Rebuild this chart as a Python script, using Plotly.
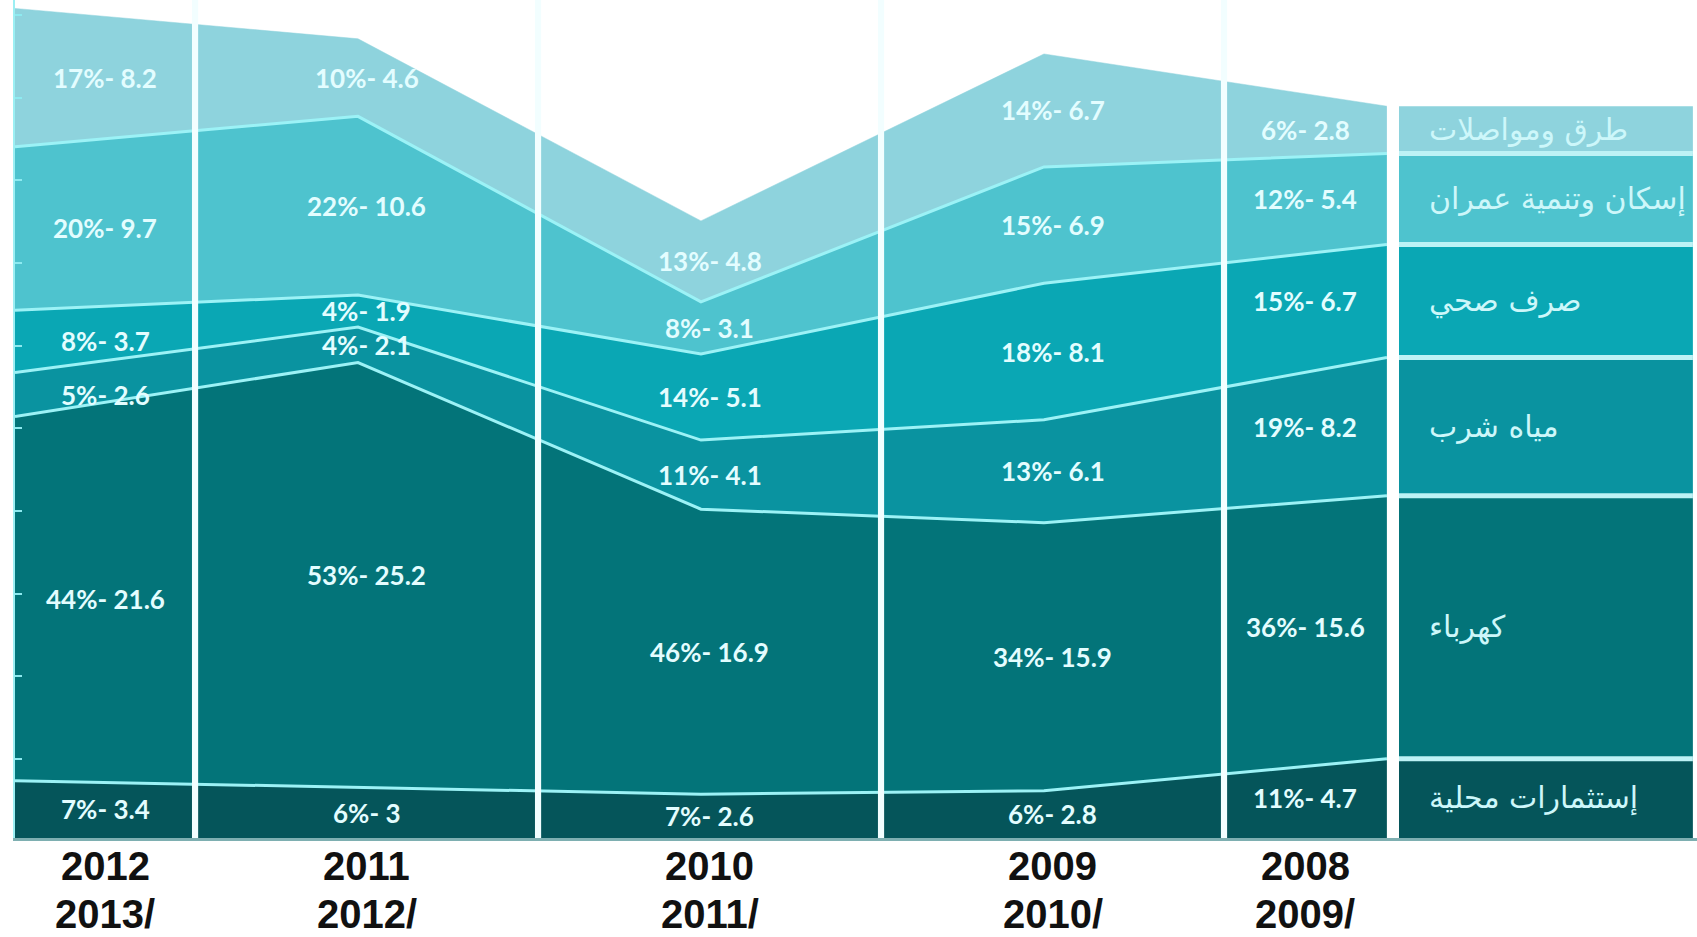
import plotly.graph_objects as go

# ---------------- data (left to right as in the reference) ----------------
year_line1 = ["2012", "2011", "2010", "2009", "2008"]
year_line2 = ["2013/", "2012/", "2011/", "2010/", "2009/"]

# sectors, bottom to top of the stack
sector_names = ["إستثمارات محلية", "كهرباء", "مياه شرب", "صرف صحي", "إسكان وتنمية عمران", "طرق ومواصلات"]
local_vals       = [3.4, 3.0, 2.6, 2.8, 4.7]
electricity_vals = [21.6, 25.2, 16.9, 15.9, 15.6]
water_vals       = [2.6, 2.1, 4.1, 6.1, 8.2]
sanitation_vals  = [3.7, 1.9, 5.1, 8.1, 6.7]
housing_vals     = [9.7, 10.6, 3.1, 6.9, 5.4]
roads_vals       = [8.2, 4.6, 4.8, 6.7, 2.8]

local_pct       = [7, 6, 7, 6, 11]
electricity_pct = [44, 53, 46, 34, 36]
water_pct       = [5, 4, 11, 13, 19]
sanitation_pct  = [8, 4, 14, 18, 15]
housing_pct     = [20, 22, 8, 15, 12]
roads_pct       = [17, 10, 13, 14, 6]

# ---------------- styles ----------------
colors = ["#05555A", "#037479", "#0A93A0", "#0AA7B4", "#4EC3CE", "#8ED3DD"]
band_line = "#9CF2F6"
label_color = "#E3FDFF"
legend_text_color = "#CDF7FA"

values = [local_vals, electricity_vals, water_vals, sanitation_vals, housing_vals, roads_vals]
pcts = [local_pct, electricity_pct, water_pct, sanitation_pct, housing_pct, roads_pct]

n = len(year_line1)
xs = list(range(n))
Y_MAX = 49.7
X_MAX = 4.904

# column boundaries (between categories) and column centres for the labels
separators = [i + 0.525 for i in range(n - 1)]
bounds = [0] + separators + [n - 1]
col_centers = [(bounds[i] + bounds[i + 1]) / 2 for i in range(n)]

LEG_X0, LEG_X1 = 4.035, 4.892
LEG_TEXT_X = 4.118

fig = go.Figure()

for k, (name, vals) in enumerate(zip(sector_names, values)):
    top = k == len(values) - 1
    fig.add_trace(go.Scatter(
        x=xs, y=vals, name=name, stackgroup="s", mode="lines",
        line=dict(color=colors[k] if top else band_line, width=0.5 if top else 3),
        fillcolor=colors[k], hoverinfo="skip", showlegend=False,
    ))

# cumulative sums for label positions
cum = [[0.0] * n]
for vals in values:
    cum.append([cum[-1][i] + vals[i] for i in range(n)])

annotations = []
shapes = []

label_font = dict(family="Lato, 'Liberation Sans', sans-serif", size=26, color=label_color, weight="bold")
year_font = dict(family="'Liberation Sans', Arial, sans-serif", size=40, color="#111111", weight="bold")

# value labels in every column
for k, vals in enumerate(values):
    for i in range(n):
        mid = (cum[k][i] + cum[k + 1][i]) / 2
        annotations.append(dict(
            x=col_centers[i], y=mid, xref="x", yref="y",
            text=f"{pcts[k][i]}%- {vals[i]:g}", showarrow=False, font=label_font,
        ))

# year labels
for i in range(n):
    annotations.append(dict(x=col_centers[i], y=0, xref="x", yref="paper", yanchor="middle",
                            yshift=-28, text=year_line1[i], showarrow=False, font=year_font))
    annotations.append(dict(x=col_centers[i], y=0, xref="x", yref="paper", yanchor="middle",
                            yshift=-76, text=year_line2[i], showarrow=False, font=year_font))

# legend column built from the last category's stack
last = n - 1
for k, name in enumerate(sector_names):
    y0, y1 = cum[k][last], cum[k + 1][last]
    shapes.append(dict(type="rect", xref="x", yref="y", x0=LEG_X0, x1=LEG_X1, y0=y0, y1=y1,
                       fillcolor=colors[k], line=dict(width=0), layer="below"))
    annotations.append(dict(x=LEG_TEXT_X, y=(y0 + y1) / 2, xref="x", yref="y", xanchor="left",
                            text=name, showarrow=False,
                            font=dict(family="'DejaVu Sans', sans-serif", size=30, color=legend_text_color)))
for k in range(1, len(sector_names)):
    yb = cum[k][last]
    shapes.append(dict(type="line", xref="x", yref="y", x0=LEG_X0, x1=LEG_X1, y0=yb, y1=yb,
                       line=dict(color="#BDF2F5", width=5), layer="above"))

# white column separators
for s in separators:
    shapes.append(dict(type="rect", xref="x", yref="y", x0=s - 0.009, x1=s + 0.009, y0=0, y1=Y_MAX,
                       fillcolor="#F2FEFF", line=dict(width=0), layer="above"))
# gap between chart and legend
shapes.append(dict(type="rect", xref="x", yref="y", x0=n - 1, x1=LEG_X0, y0=0, y1=Y_MAX,
                   fillcolor="#FFFFFF", line=dict(width=0), layer="above"))

fig.update_layout(
    width=1697, height=937,
    margin=dict(l=15, r=0, t=0, b=99),
    paper_bgcolor="white", plot_bgcolor="white",
    showlegend=False,
    xaxis=dict(range=[0, X_MAX], showgrid=False, zeroline=False, showticklabels=False,
               ticks="", showline=True, linecolor="#7EAFB1", linewidth=3),
    yaxis=dict(range=[0, Y_MAX], showgrid=False, zeroline=False, showticklabels=False,
               ticks="inside", ticklen=7, tickwidth=2, tickcolor="#8DEAF0", tick0=4.7, dtick=4.9,
               showline=True, linecolor="#9CEFF3", linewidth=2),
    annotations=annotations,
    shapes=shapes,
)

fig.write_html("out.html")
